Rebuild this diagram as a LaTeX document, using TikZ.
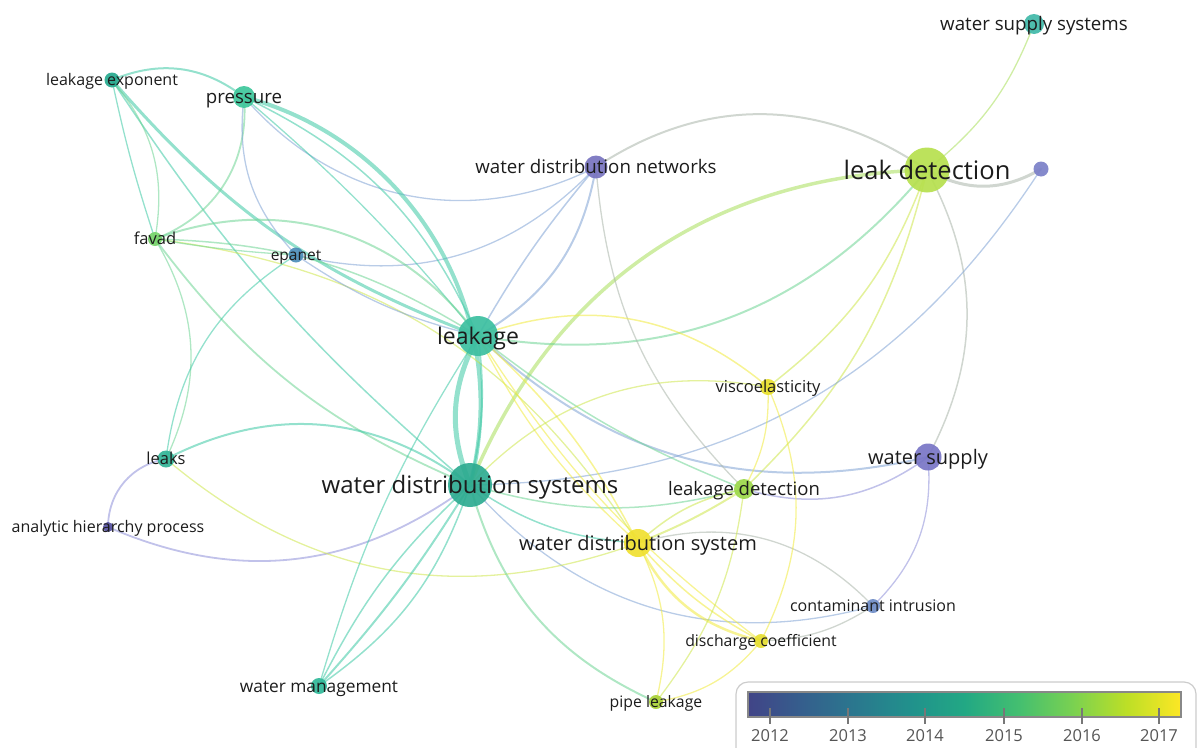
\documentclass[tikz,border=0pt]{standalone}
\usepackage{fontspec}
\setmainfont{Open Sans}
\definecolor{eT}{HTML}{3CC8A4}
\definecolor{eTG}{HTML}{6ED494}
\definecolor{eG}{HTML}{A8DF5A}
\definecolor{eYG}{HTML}{CDE64A}
\definecolor{eY}{HTML}{F0EA3C}
\definecolor{eB}{HTML}{7FA2D4}
\definecolor{eP}{HTML}{8E8FD8}
\definecolor{eGr}{HTML}{A9B4A9}
\definecolor{labelc}{HTML}{1C1C1C}
\definecolor{cwss}{HTML}{40B8A8}
\definecolor{cld}{HTML}{B6E04E}
\definecolor{cunl}{HTML}{7B80C8}
\definecolor{cwdn}{HTML}{7773BF}
\definecolor{cle}{HTML}{25A98E}
\definecolor{cpr}{HTML}{3EC79B}
\definecolor{cfv}{HTML}{76D36A}
\definecolor{cep}{HTML}{4C8DB8}
\definecolor{clk}{HTML}{3CBFA0}
\definecolor{cvi}{HTML}{E8E02C}
\definecolor{cws}{HTML}{7875C6}
\definecolor{clks}{HTML}{32B497}
\definecolor{cwdss}{HTML}{2EAB91}
\definecolor{clde}{HTML}{9CD84A}
\definecolor{cahp}{HTML}{55509F}
\definecolor{cwdsy}{HTML}{F0E030}
\definecolor{cci}{HTML}{6E8CC6}
\definecolor{cdc}{HTML}{E6DE30}
\definecolor{cwm}{HTML}{30B899}
\definecolor{cpl}{HTML}{A9D136}
\definecolor{v0}{HTML}{414487}
\definecolor{v1}{HTML}{355F8D}
\definecolor{v2}{HTML}{2A788E}
\definecolor{v3}{HTML}{21918C}
\definecolor{v4}{HTML}{22A884}
\definecolor{v5}{HTML}{44BF70}
\definecolor{v6}{HTML}{7AD151}
\definecolor{v7}{HTML}{BDDF26}
\definecolor{v8}{HTML}{FDE725}
\definecolor{legb}{HTML}{CCCCCC}
\definecolor{barb}{HTML}{888888}
\definecolor{tickc}{HTML}{777777}
\definecolor{yearc}{HTML}{555555}
\pgfdeclarehorizontalshading{viridisbar}{100bp}{color(0bp)=(v0); color(25bp)=(v0); color(31.25bp)=(v1); color(37.5bp)=(v2); color(43.75bp)=(v3); color(50bp)=(v4); color(56.25bp)=(v5); color(62.5bp)=(v6); color(68.75bp)=(v7); color(75bp)=(v8); color(100bp)=(v8)}
\newcommand\kwnode[6]{%
  \node[kw, minimum size=#2pt, fill=#3] (#1-n) at (#1) {};
  \node[lbl, font=\fontsize{#4}{#4}\selectfont, anchor=base, yshift=-#5pt] (#1-l) at (#1) {#6};}
\begin{document}
\begin{tikzpicture}[x=1pt,y=1pt,
  edge/.style={line width=1.3pt, draw opacity=0.55, line cap=round},
  kw/.style={circle, inner sep=0pt, draw=none, fill opacity=0.92},
  lbl/.style={text=labelc, inner sep=0pt},
  yearlbl/.style={text=yearc, inner sep=0pt, font=\fontsize{16.5}{16.5}\selectfont}]
\useasboundingbox (0,0) rectangle (1199,-747);
\clip (0,0) rectangle (1199,-747);
% positions
\coordinate (wss) at (1034,-24);
\coordinate (ld) at (927,-170);
\coordinate (unl) at (1041,-169);
\coordinate (wdn) at (596,-167);
\coordinate (le) at (112,-80);
\coordinate (pr) at (244,-97);
\coordinate (fv) at (155,-239);
\coordinate (ep) at (296,-255);
\coordinate (lk) at (478,-336);
\coordinate (vi) at (768,-387);
\coordinate (ws) at (928,-457);
\coordinate (lks) at (166,-459);
\coordinate (wdss) at (470,-485);
\coordinate (lde) at (744,-489);
\coordinate (ahp) at (108,-527);
\coordinate (wdsy) at (638,-543);
\coordinate (ci) at (873,-606);
\coordinate (dc) at (761,-641);
\coordinate (wm) at (319,-686);
\coordinate (pl) at (656,-702);
% edges
\draw[edge,eG] (ld) to[bend right=15] (wss);
\draw[edge,eGr,line width=3] (ld) to[bend right=30] (unl);
\draw[edge,eGr,line width=2] (wdn) to[bend left=34] (ld);
\draw[edge,eG,line width=3.5] (wdss) to[bend left=33] (ld);
\draw[edge,eTG,line width=2] (lk) to[bend right=30] (ld);
\draw[edge,eYG,line width=1.5] (vi) to[bend right=16] (ld);
\draw[edge,eYG,line width=1.5] (lde) to[bend right=16] (ld);
\draw[edge,eGr,line width=1.5] (ld) to[bend left=28] (ws);
\draw[edge,eB] (unl) to[bend left=28] (wdss);
\draw[edge,eB,line width=2] (lk) to[bend right=28] (ws);
\draw[edge,eP,line width=1.5] (ws) to[bend left=26] (lde);
\draw[edge,eP] (ws) to[bend left=25] (ci);
\draw[edge,eB] (wdss) to[bend right=32] (ci);
\draw[edge,eGr] (wdsy) to[bend left=31] (ci);
\draw[edge,eGr] (dc) to[bend right=15] (ci);
\draw[edge,eB,line width=1.5] (wdn) to[bend right=5] (lk);
\draw[edge,eB,line width=2] (wdn) to[bend left=25] (lk);
\draw[edge,eGr] (wdn) to[bend right=20] (lde);
\draw[edge,eB] (pr) to[bend right=38] (wdn);
\draw[edge,eB] (ep) to[bend right=30] (wdn);
\draw[edge,eT,line width=4] (pr) to[bend left=45] (wdss);
\draw[edge,eT,line width=3] (le) to[bend right=14] (lk);
\draw[edge,eT,line width=1.5] (le) to[bend right=8] (wdss);
\draw[edge,eT,line width=2] (le) to[bend left=30] (pr);
\draw[edge,eT] (le) to[bend right=3] (fv);
\draw[edge,eTG] (le) to[bend left=25] (fv);
\draw[edge,eTG,line width=1.8] (pr) to[bend left=37] (fv);
\draw[edge,eB] (pr) to[bend right=25] (ep);
\draw[edge,eT,line width=1.5] (pr) to[bend left=20] (lk);
\draw[edge,eT] (pr) to[bend left=5] (lk);
\draw[edge,eTG,line width=2] (fv) to[bend left=37] (lk);
\draw[edge,eTG,line width=1.5] (fv) to[bend left=15] (lk);
\draw[edge,eYG] (fv) to[bend left=25] (wdsy);
\draw[edge,eTG] (fv) to[bend right=3] (ep);
\draw[edge,eTG,line width=1.8] (fv) to[bend right=15] (wdss);
\draw[edge,eTG] (fv) to[bend left=28] (lks);
\draw[edge,eT] (lks) to[bend left=25] (ep);
\draw[edge,eT,line width=2] (lks) to[bend left=32] (wdss);
\draw[edge,eP,line width=1.8] (lks) to[bend right=40] (ahp);
\draw[edge,eP,line width=1.8] (ahp) to[bend right=30] (wdss);
\draw[edge,eYG] (lks) to[bend right=30] (wdsy);
\draw[edge,eT,line width=2] (wdss) to[bend left=5] (wm);
\draw[edge,eT,line width=1.5] (wdss) to[bend right=10] (wm);
\draw[edge,eT,line width=1.5] (wdss) to[bend left=18] (wm);
\draw[edge,eT] (lk) to[bend right=8] (wm);
\draw[edge,eT,line width=5] (lk) to[bend right=25] (wdss);
\draw[edge,eT,line width=2] (lk) to[bend left=10] (wdss);
\draw[edge,eTG,line width=2] (wdss) to[bend right=25] (pl);
\draw[edge,eT,line width=1.5] (wdss) to[bend right=15] (wdsy);
\draw[edge,eTG,line width=1.5] (wdss) to[bend right=15] (lde);
\draw[edge,eB] (ep) to[bend right=10] (lk);
\draw[edge,eTG,line width=1.5] (lk) to[bend right=8] (lde);
\draw[edge,eY,line width=1.5] (lk) to[bend left=10] (wdsy);
\draw[edge,eY] (lk) to[bend right=10] (wdsy);
\draw[edge,eY] (lk) to[bend right=10] (dc);
\draw[edge,eY,line width=1.5] (lk) to[bend left=30] (vi);
\draw[edge,eYG] (wdss) to[bend left=28] (vi);
\draw[edge,eY] (vi) to[bend left=25] (dc);
\draw[edge,eY] (vi) to[bend left=15] (lde);
\draw[edge,eY,line width=2.5] (wdsy) to[bend right=25] (dc);
\draw[edge,eY,line width=1.5] (wdsy) to[bend right=10] (dc);
\draw[edge,eYG,line width=1.5] (wdsy) to[bend left=15] (lde);
\draw[edge,eYG,line width=2] (wdsy) to[bend right=5] (lde);
\draw[edge,eY] (wdsy) to[bend left=20] (pl);
\draw[edge,eYG] (lde) to[bend left=15] (pl);
\draw[edge,eY] (pl) to[bend right=20] (dc);
% nodes and labels
\kwnode{wss}{20}{cwss}{18.7}{6.5}{water supply systems}
\kwnode{ld}{45}{cld}{25.5}{9}{leak detection}
\node[kw, minimum size=15pt, fill=cunl] (unl-n) at (unl) {};
\kwnode{wdn}{23}{cwdn}{18.7}{6.5}{water distribution networks}
\kwnode{le}{15}{cle}{16}{5.6}{leakage exponent}
\kwnode{pr}{22}{cpr}{18.7}{6.5}{pressure}
\kwnode{fv}{14}{cfv}{16.5}{5.8}{favad}
\kwnode{ep}{15}{cep}{15.5}{5.4}{epanet}
\kwnode{lk}{40}{clk}{23}{8}{leakage}
\kwnode{vi}{16}{cvi}{16.5}{5.8}{viscoelasticity}
\kwnode{ws}{27}{cws}{20}{7}{water supply}
\kwnode{lks}{17}{clks}{16.5}{5.8}{leaks}
\kwnode{wdss}{44}{cwdss}{24}{8.4}{water distribution systems}
\kwnode{lde}{20}{clde}{18.5}{6.5}{leakage detection}
\kwnode{ahp}{10}{cahp}{16}{5.6}{analytic hierarchy process}
\kwnode{wdsy}{28}{cwdsy}{20}{7}{water distribution system}
\kwnode{ci}{14}{cci}{16}{5.6}{contaminant intrusion}
\kwnode{dc}{14}{cdc}{15.8}{5.5}{discharge coefficient}
\kwnode{wm}{16}{cwm}{17.3}{6}{water management}
\kwnode{pl}{14}{cpl}{15.8}{5.5}{pipe leakage}
% legend
\draw[draw=legb, line width=1.2pt, fill=white, rounded corners=12pt] (736,-682) rectangle (1196,-775);
\shade[shading=viridisbar] (748,-692) rectangle (1181,-717);
\draw[barb, line width=1.2pt] (748,-692) rectangle (1181,-717);
\foreach \xx/\yy in {770/2012, 848/2013, 925/2014, 1004/2015, 1082/2016, 1159/2017}{
  \draw[tickc, line width=1.4pt] (\xx,-708) -- (\xx,-724);
  \node[yearlbl, anchor=base] (y\yy) at (\xx,-741) {\yy};
}
\end{tikzpicture}
\end{document}
